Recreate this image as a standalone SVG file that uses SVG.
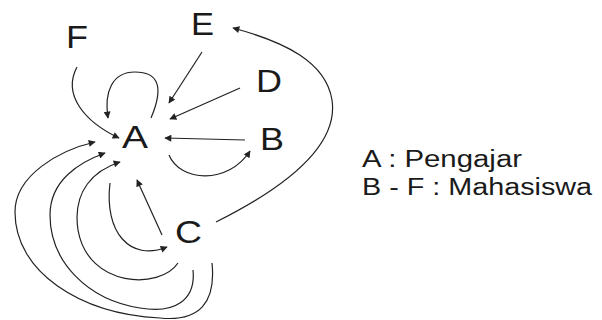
<svg xmlns="http://www.w3.org/2000/svg" width="602" height="320" viewBox="0 0 602 320">
<style>
.n{font-family:"Liberation Sans",Arial,sans-serif;font-size:32px;fill:#1a1a1a}
.l{font-family:"Liberation Sans",Arial,sans-serif;font-size:23px;fill:#1a1a1a}
.c path{fill:none;stroke:#222;stroke-width:1.2;marker-end:url(#ah)}
</style>
<defs>
<marker id="ah" viewBox="0 0 10 10" refX="9" refY="5" markerWidth="9" markerHeight="7" markerUnits="userSpaceOnUse" orient="auto">
<path d="M0,0 L10,5 L0,10 z" fill="#222"/>
</marker>
</defs>
<rect width="602" height="320" fill="#fff"/>
<g id="node-A"><text class="n" x="122" y="148" textLength="26" lengthAdjust="spacingAndGlyphs">A</text></g>
<g id="node-B"><text class="n" x="260" y="150" textLength="24" lengthAdjust="spacingAndGlyphs">B</text></g>
<g id="node-C"><text class="n" x="175" y="243" textLength="27" lengthAdjust="spacingAndGlyphs">C</text></g>
<g id="node-D"><text class="n" x="256" y="92" textLength="26" lengthAdjust="spacingAndGlyphs">D</text></g>
<g id="node-E"><text class="n" x="191" y="35" textLength="23" lengthAdjust="spacingAndGlyphs">E</text></g>
<g id="node-F"><text class="n" x="66" y="48" textLength="22" lengthAdjust="spacingAndGlyphs">F</text></g>
<g id="legend">
<text class="l" x="362" y="167" textLength="160" lengthAdjust="spacingAndGlyphs">A : Pengajar</text>
<text class="l" x="362" y="195" textLength="230" lengthAdjust="spacingAndGlyphs">B - F : Mahasiswa</text>
</g>
<g id="connectors" class="c">
<path d="M77,67 C62,95 85,122 119,138"/>
<path d="M151,118 C165,85 157,72 135,72 C112,72 104,92 108,118"/>
<path d="M202,52 L169,103"/>
<path d="M240,88 L170,119"/>
<path d="M245,140 L165,138"/>
<path d="M169,155 C180,182 228,185 250,151"/>
<path d="M216,222 C300,180 338,140 332,100 C326,62 285,42 233,28"/>
<path d="M162,235 L137,180"/>
<path d="M110,183 C104,232 130,262 167,247"/>
<path d="M178,263 C160,290 88,288 78,230 C72,190 95,170 120,162"/>
<path d="M193,270 C196,300 175,314 140,308 C88,300 50,262 50,215 C50,180 80,162 105,153"/>
<path d="M212,263 C216,302 200,322 160,318 C80,314 15,272 15,212 C15,175 60,150 95,142"/>
</g>
</svg>
